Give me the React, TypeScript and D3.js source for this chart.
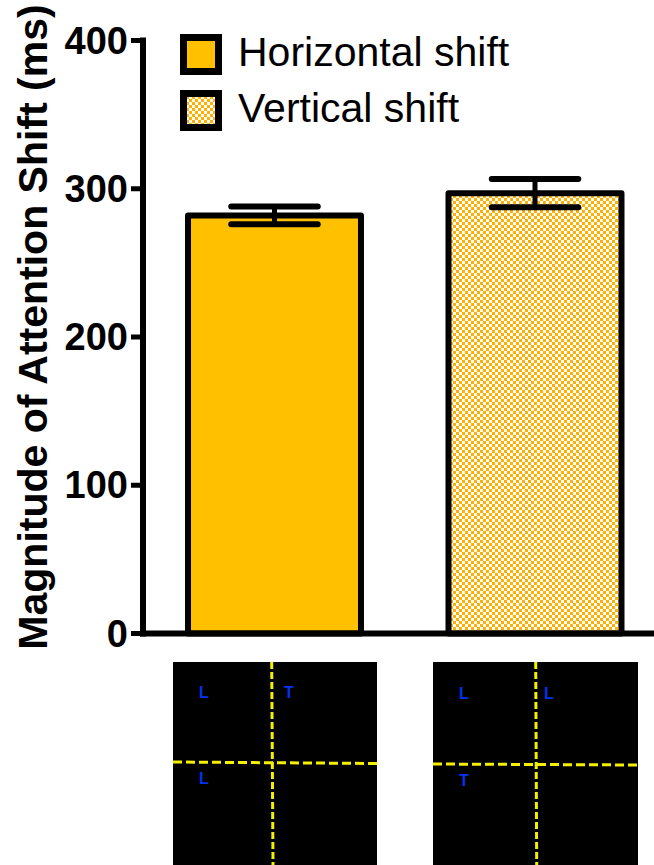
import React from "react";
import * as d3 from "d3";

const categories = ["Horizontal shift", "Vertical shift"];
const means = [282, 297];
const errors = [6, 9.5];
const yTicks = [0, 100, 200, 300, 400];
const yTitle = "Magnitude of Attention Shift (ms)";
const panelLabels = [
  ["L", "T", "L"],
  ["L", "L", "T"],
];

const W = 654;
const H = 865;
const SOLID = "#FFC000";
const CHECK = "#FFB000";
const FONT = "'Liberation Sans', Arial, Helvetica, sans-serif";

export default function App() {
  const y = d3.scaleLinear().domain([0, 400]).range([633.5, 40.5]);
  const x = d3
    .scaleBand<string>()
    .domain(categories)
    .range([144.5, 665])
    .paddingInner(0.336)
    .paddingOuter(0.167);
  const bw = x.bandwidth();
  const axisX = 143;

  // bottom stimulus panels
  const panels = [
    { x0: 173, x1: 377, vx: [271.7, 273], hy: [762, 763.5] },
    { x0: 433, x1: 638, vx: [535.7, 536.7], hy: [764, 765] },
  ];
  const panelTop = 662;

  return (
    <svg
      width={W}
      height={H}
      style={{ position: "absolute", left: 0, top: 0, background: "#fff" }}
      fontFamily={FONT}
    >
      <defs>
        <pattern id="checker" width={6} height={6} patternUnits="userSpaceOnUse">
          <rect width={6} height={6} fill="#ffffff" />
          <rect width={3} height={3} fill={CHECK} />
          <rect x={3} y={3} width={3} height={3} fill={CHECK} />
        </pattern>
      </defs>

      {/* bars */}
      {categories.map((c, i) => {
        const x0 = x(c)!;
        const top = y(means[i]);
        return (
          <rect
            key={c}
            x={x0}
            y={top}
            width={bw}
            height={y(0) - top}
            fill={i === 0 ? SOLID : "url(#checker)"}
            stroke="#000"
            strokeWidth={6}
            strokeLinejoin="round"
          />
        );
      })}

      {/* error bars */}
      {categories.map((c, i) => {
        const cx = x(c)! + bw / 2;
        const hi = y(means[i] + errors[i]);
        const lo = y(means[i] - errors[i]);
        const hw = bw * 0.25;
        return (
          <g key={"e" + c} stroke="#000" strokeWidth={6} strokeLinecap="round">
            <line x1={cx} x2={cx} y1={hi} y2={lo} strokeWidth={5} />
            <line x1={cx - hw} x2={cx + hw} y1={hi} y2={hi} />
            <line x1={cx - hw} x2={cx + hw} y1={lo} y2={lo} />
          </g>
        );
      })}

      {/* axes */}
      <line x1={140} x2={W} y1={y(0)} y2={y(0)} stroke="#000" strokeWidth={6} />
      <line x1={axisX} x2={axisX} y1={y(400) - 3} y2={y(0) + 3} stroke="#000" strokeWidth={6} />
      {yTicks.map((t) => (
        <g key={t}>
          <line x1={131} x2={axisX} y1={y(t)} y2={y(t)} stroke="#000" strokeWidth={5} />
          <text
            x={128}
            y={y(t)}
            textAnchor="end"
            dominantBaseline="central"
            fontSize={38}
            fontWeight="bold"
            fill="#000"
          >
            {t}
          </text>
        </g>
      ))}
      <text
        transform="rotate(-90)"
        x={-327}
        y={47}
        textAnchor="middle"
        fontSize={41}
        fontWeight="bold"
        fill="#000"
      >
        {yTitle}
      </text>

      {/* legend */}
      {categories.map((c, i) => (
        <g key={"l" + c}>
          <rect
            x={183.5}
            y={37.5 + i * 56}
            width={35}
            height={34}
            fill={i === 0 ? SOLID : "url(#checker)"}
            stroke="#000"
            strokeWidth={7}
          />
          <text x={238} y={66 + i * 56} fontSize={41} fill="#000">
            {c}
          </text>
        </g>
      ))}

      {/* stimulus panels */}
      {panels.map((p, i) => {
        const w = p.x1 - p.x0;
        const labels = panelLabels[i];
        const lx = p.x0 + 31;
        const rx = p.x0 + 116;
        return (
          <g key={"p" + i}>
            <rect x={p.x0} y={panelTop} width={w} height={H - panelTop} fill="#000" />
            <line
              x1={p.vx[0]}
              x2={p.vx[1]}
              y1={panelTop}
              y2={H}
              stroke="#F5F000"
              strokeWidth={3}
              strokeDasharray="7 3"
            />
            <line
              x1={p.x0}
              x2={p.x1}
              y1={p.hy[0]}
              y2={p.hy[1]}
              stroke="#F5F000"
              strokeWidth={3}
              strokeDasharray="9 4"
            />
            <g fontSize={16} fontWeight="bold" fill="#0033EE" textAnchor="middle">
              <text x={lx} y={698 + i}>{labels[0]}</text>
              <text x={rx} y={698 + i}>{labels[1]}</text>
              <text x={lx} y={784 + i * 2}>{labels[2]}</text>
            </g>
          </g>
        );
      })}
    </svg>
  );
}
